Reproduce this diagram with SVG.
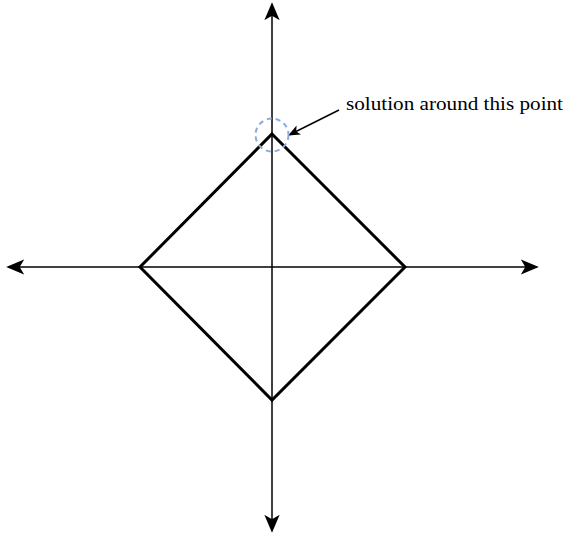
<svg xmlns="http://www.w3.org/2000/svg" width="569" height="535" viewBox="0 0 569 535">
<style>
.axis{stroke:#000;stroke-width:1.5;fill:none}
.shape{stroke:#000;stroke-width:3;fill:none;stroke-linejoin:miter}
.lbl{font-family:"Liberation Serif","DejaVu Serif",serif;font-size:19px;fill:#000}
</style>
<defs>
<marker id="ah" viewBox="0 0 20 20" refX="18" refY="10" markerWidth="18" markerHeight="18" markerUnits="userSpaceOnUse" orient="auto">
<path d="M20,10 L0,1.5 L5,10 L0,18.5 Z" fill="#000"/>
</marker>
<marker id="ahs" viewBox="0 0 12 12" refX="11" refY="6" markerWidth="12" markerHeight="12" markerUnits="userSpaceOnUse" orient="auto">
<path d="M12,6 L0,1 L3,6 L0,11 Z" fill="#000"/>
</marker>
</defs>
<g id="connectors">
<line class="axis" x1="272" y1="267" x2="272" y2="4" marker-end="url(#ah)"/>
<line class="axis" x1="272" y1="267" x2="272" y2="531" marker-end="url(#ah)"/>
<line class="axis" x1="272" y1="267" x2="8" y2="267" marker-end="url(#ah)"/>
<line class="axis" x1="272" y1="267" x2="537" y2="267" marker-end="url(#ah)"/>
<line class="axis" x1="339" y1="110" x2="289" y2="135" marker-end="url(#ahs)"/>
</g>
<g id="diamond">
<polygon class="shape" points="272,134 405,267 272,400 140,267"/>
</g>
<g id="circle">
<circle cx="272" cy="135" r="16.5" fill="none" stroke="#8faadc" stroke-width="2" stroke-dasharray="5,4"/>
</g>
<g id="label">
<text class="lbl" x="346" y="110" textLength="217" lengthAdjust="spacingAndGlyphs">solution around this point</text>
</g>
</svg>
